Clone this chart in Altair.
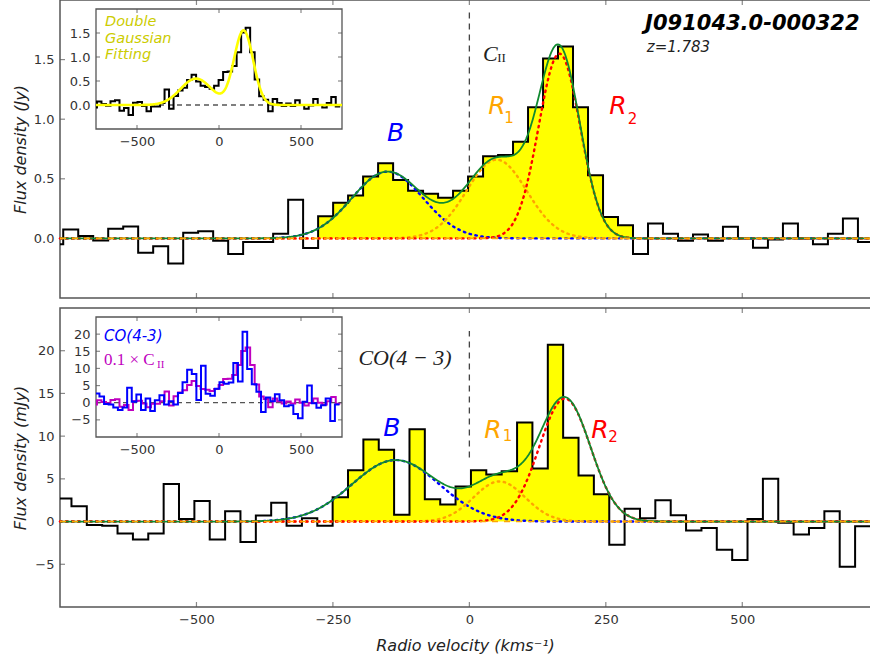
import altair as alt
import numpy as np
import pandas as pd

# ---------------- values ----------------
# [CII] spectrum: channel left edges (km/s, last entry = right edge of last channel) and flux (Jy)
cii_edges = [-771.6, -744.1, -716.6, -689.2, -661.7, -634.2, -606.8, -579.3, -551.8,
             -524.3, -496.9, -469.4, -441.9, -414.5, -387.0, -359.5, -332.0, -304.6,
             -277.1, -249.6, -222.2, -194.7, -167.2, -139.7, -112.3, -84.8, -57.3,
             -29.9, -2.4, 25.1, 52.6, 80.0, 107.5, 135.0, 162.4, 189.9, 217.4, 244.9,
             272.3, 299.8, 327.3, 354.7, 382.2, 409.7, 437.2, 464.6, 492.1, 519.6,
             547.0, 574.5, 602.0, 629.5, 656.9, 684.4, 711.9, 739.4]
cii_flux = [-0.05, 0.075, 0.02, -0.017, 0.08, 0.10, -0.12, -0.065, -0.21, 0.047, 0.06,
            -0.02, -0.13, -0.03, -0.03, 0.04, 0.325, -0.08, 0.185, 0.30, 0.36, 0.52, 0.63,
            0.49, 0.40, 0.375, 0.34, 0.40, 0.52, 0.69, 0.70, 0.81, 1.10, 1.51, 1.61, 1.10,
            0.53, 0.18, 0.11, -0.13, 0.125, 0.04, -0.02, 0.033, -0.02, 0.097, 0.0, -0.078,
            -0.01, 0.125, 0.0, -0.05, 0.04, 0.167, -0.03]
cii_fill = (18, 38)   # first / last shaded channel (list index)

# CO(4-3) spectrum: channel edges (km/s) and flux (mJy)
co_edges = [-757.2, -729.0, -700.9, -672.7, -644.6, -616.4, -588.3, -560.1, -532.0,
            -503.8, -475.7, -447.5, -419.4, -391.2, -363.1, -334.9, -306.8, -278.6,
            -250.5, -222.3, -194.2, -166.0, -137.9, -109.7, -81.6, -53.4, -25.3, 2.9,
            31.0, 59.2, 87.4, 115.5, 143.7, 171.8, 200.0, 228.1, 256.3, 284.4, 312.6,
            340.7, 368.9, 397.0, 425.2, 453.3, 481.5, 509.6, 537.8, 565.9, 594.1, 622.2,
            650.4, 678.5, 706.7, 734.8]
co_flux = [2.7, 1.8, -0.4, -0.5, -1.4, -2.1, -1.4, 4.4, 0.3, 2.4, -2.1, 1.2, -2.4, 0.7,
           2.2, -0.5, 0.4, -0.5, 2.85, 6.0, 9.6, 8.4, 0.8, 10.8, 2.6, 2.0, 4.1, 6.0, 5.5,
           5.9, 11.6, 6.2, 20.7, 9.8, 5.4, 3.2, -2.7, 1.5, 0.4, 2.5, 0.75, -1.05, -0.75,
           -3.3, -4.5, 0.3, 5.0, -0.15, -1.5, -0.75, 1.2, -5.3, -0.55]
co_fill = (18, 35)

# Gaussian fit components (amplitude, centre km/s, sigma km/s)
cii_comp = {"B": (0.56, -150, 65), "R1": (0.66, 50, 55), "R2": (1.55, 165, 38)}
co_comp = {"B": (7.2, -135, 80), "R1": (4.7, 55, 47), "R2": (14.4, 175, 47)}
cii_double = [(0.55, -140, 95), (1.55, 150, 58)]
co_scale_of_cii = 10.0   # "0.1 x C_II" curve in mJy

comp_colors = {"B": "#0000ff", "R1": "#ffa500", "R2": "#ff0000"}

# tick values
main_xticks = [-500, -250, 0, 250, 500]
top_yticks = [0, 0.5, 1.0, 1.5]
bot_yticks = [-5, 0, 5, 10, 15, 20]
inset_xticks = [-500, 0, 500]

# ---------------- layout (pixels inside the 810 x 607 plot area) ----------------
W, H = 810, 607
def xm():  return alt.Scale(domain=[-750, 734], range=[0, 810], nice=False, zero=False)
def xi():  return alt.Scale(domain=[-750, 750], range=[36, 282], nice=False, zero=False)
def yt():  return alt.Scale(domain=[-0.5, 2.0], range=[298, 0], nice=False, zero=False)
def yb():  return alt.Scale(domain=[-10, 25], range=[607, 308], nice=False, zero=False)
def yti(): return alt.Scale(domain=[-0.5, 2.0], range=[129, 9], nice=False, zero=False)
def ybi(): return alt.Scale(domain=[-10, 25], range=[437, 317], nice=False, zero=False)

def step_df(edges, flux, lo=-750):
    v = [max(e, lo) for e in edges]
    return pd.DataFrame({"v": v, "f": list(flux) + [flux[-1]]})

def fill_df(edges, flux, rng):
    i0, i1 = rng
    return pd.DataFrame({"v": edges[i0:i1 + 2], "f": flux[i0:i1 + 1] + [flux[i1]]})

vgrid = np.linspace(-750, 750, 751)
def gauss(a, m, s):
    return a * np.exp(-(vgrid - m) ** 2 / (2 * s * s))

def line(df, xs, ys, color, width, dash=None, interp=None, cap=None):
    kw = dict(color=color, strokeWidth=width)
    if dash: kw["strokeDash"] = dash
    if interp: kw["interpolate"] = interp
    if cap: kw["strokeCap"] = cap
    return alt.Chart(df).mark_line(**kw).encode(
        x=alt.X("v:Q", scale=xs, axis=None), y=alt.Y("f:Q", scale=ys, axis=None))

def texts(rows, xs, ys, **kw):
    df = pd.DataFrame(rows, columns=["v", "f", "t"])
    return alt.Chart(df).mark_text(**kw).encode(
        x=alt.X("v:Q", scale=xs, axis=None), y=alt.Y("f:Q", scale=ys, axis=None),
        text="t:N")

def frame(x1, x2, y1, y2, xs, ys, xaxis=None, yaxis=None, fill=None, sw=1.5):
    df = pd.DataFrame({"x1": [x1], "x2": [x2], "y1": [y1], "y2": [y2]})
    if fill:
        mk = alt.Chart(df).mark_rect(fill=fill, stroke="#555", strokeWidth=sw)
    else:
        mk = alt.Chart(df).mark_rect(filled=False, stroke="#555", strokeWidth=sw)
    return mk.encode(x=alt.X("x1:Q", scale=xs, axis=xaxis), x2="x2:Q",
                     y=alt.Y("y1:Q", scale=ys, axis=yaxis), y2="y2:Q")

def xticks(vals, edge, xs, ys, off, size):
    df = pd.DataFrame({"v": vals, "f": [edge] * len(vals)})
    return alt.Chart(df).mark_tick(orient="vertical", size=size, thickness=1.2,
                                   yOffset=off, color="#555").encode(
        x=alt.X("v:Q", scale=xs, axis=None), y=alt.Y("f:Q", scale=ys, axis=None))

def yticks(vals, edge, xs, ys, off, size):
    df = pd.DataFrame({"v": [edge] * len(vals), "f": vals})
    return alt.Chart(df).mark_tick(orient="horizontal", size=size, thickness=1.2,
                                   xOffset=off, color="#555").encode(
        x=alt.X("v:Q", scale=xs, axis=None), y=alt.Y("f:Q", scale=ys, axis=None))

def vrule(v, f0, f1, xs, ys):
    df = pd.DataFrame({"v": [v], "f0": [f0], "f1": [f1]})
    return alt.Chart(df).mark_rule(color="#444", strokeWidth=1.3, strokeDash=[6, 5]).encode(
        x=alt.X("v:Q", scale=xs, axis=None), y=alt.Y("f0:Q", scale=ys, axis=None), y2="f1:Q")

def fill_area(df, xs, ys):
    return alt.Chart(df).mark_area(color="#ffff00", interpolate="step-after", opacity=1).encode(
        x=alt.X("v:Q", scale=xs, axis=None), y=alt.Y("f:Q", scale=ys, axis=None),
        y2=alt.Y2(datum=0))

def panel(edges, flux, rng, comps, xs_f, ys_f, vr, fr_axes, ytick_vals):
    lo, hi = ys_f().domain
    L = [frame(-750, 760, lo, hi, xs_f(), ys_f(), *fr_axes),
         xticks(main_xticks, lo, xs_f(), ys_f(), -2.5, 5),
         xticks(main_xticks, hi, xs_f(), ys_f(), 2.5, 5),
         yticks(ytick_vals, -750, xs_f(), ys_f(), 2.5, 5),
         vrule(0, vr[0], vr[1], xs_f(), ys_f()),
         fill_area(fill_df(edges, flux, rng), xs_f(), ys_f()),
         line(step_df(edges, flux), xs_f(), ys_f(), "#000000", 2, interp="step-after")]
    total = np.zeros_like(vgrid)
    for name, (a, m, s) in comps.items():
        g = gauss(a, m, s)
        total = total + g
        L.append(line(pd.DataFrame({"v": vgrid, "f": g}), xs_f(), ys_f(),
                      comp_colors[name], 2.4, dash=[1.5, 4.5], cap="round"))
    L.append(line(pd.DataFrame({"v": vgrid, "f": total}), xs_f(), ys_f(), "#108a30", 1.8))
    L.append(line(pd.DataFrame({"v": [-750, 760], "f": [0, 0]}), xs_f(), ys_f(),
                  "#ffa500", 1.6, dash=[6, 6]))
    return L

top_y_axis = alt.Axis(orient="left", values=top_yticks, format=".1f",
                      title="Flux density (Jy)", titleX=-40, titleBaseline="middle")
bot_y_axis = alt.Axis(orient="left", values=bot_yticks, format="d",
                      title="Flux density (mJy)", titleX=-40, titleBaseline="middle")
bot_x_axis = alt.Axis(orient="bottom", values=main_xticks, format="d",
                      title="Radio velocity (kms⁻¹)", titleY=38, titleBaseline="middle")

layers = []
layers += panel(cii_edges, cii_flux, cii_fill, cii_comp, xm, yt, (0, 1.9), (None, top_y_axis), top_yticks)
layers += panel(co_edges, co_flux, co_fill, co_comp, xm, yb, (7.5, 22.3), (bot_x_axis, bot_y_axis), bot_yticks)

# annotations, top panel
layers.append(texts([(322, 1.80, "J091043.0-000322")], xm(), yt(), align="left", baseline="middle",
                    font="DejaVu Sans", fontSize=21, fontStyle="italic", fontWeight="bold", color="#000"))
layers.append(texts([(325, 1.606, "z=1.783")], xm(), yt(), align="left", baseline="middle",
                    font="DejaVu Sans", fontSize=15, fontStyle="italic", color="#222"))
layers.append(texts([(25, 1.547, "C")], xm(), yt(), align="left", baseline="middle",
                    font="Liberation Serif", fontSize=22, fontStyle="italic", color="#222"))
layers.append(texts([(51, 1.51, "II")], xm(), yt(), align="left", baseline="middle",
                    font="Liberation Serif", fontSize=13, color="#222"))
for (v, f, t, c) in [(-135, 0.884, "B", "#0000ff"), (50.6, 1.11, "R", "#ffa500"), (272, 1.11, "R", "#ff0000")]:
    layers.append(texts([(v, f, t)], xm(), yt(), align="center", baseline="middle",
                        font="DejaVu Sans", fontSize=25, fontStyle="italic", color=c))
for (v, f, t, c) in [(72.6, 1.014, "1", "#ffa500"), (298.8, 1.0, "2", "#ff0000")]:
    layers.append(texts([(v, f, t)], xm(), yt(), align="center", baseline="middle",
                        font="DejaVu Sans", fontSize=15, color=c))

# annotations, bottom panel
layers.append(texts([(-118, 19.15, "CO(4 − 3)")], xm(), yb(), align="center", baseline="middle",
                    font="Liberation Serif", fontSize=22, fontStyle="italic", color="#222"))
for (v, f, t, c) in [(-142, 10.95, "B", "#0000ff"), (43, 10.72, "R", "#ffa500"), (239.3, 10.72, "R", "#ff0000")]:
    layers.append(texts([(v, f, t)], xm(), yb(), align="center", baseline="middle",
                        font="DejaVu Sans", fontSize=25, fontStyle="italic", color=c))
for (v, f, t, c) in [(69.8, 10.02, "1", "#ffa500"), (263, 9.9, "2", "#ff0000")]:
    layers.append(texts([(v, f, t)], xm(), yb(), align="center", baseline="middle",
                        font="DejaVu Sans", fontSize=15, color=c))

# ---------------- inset: double gaussian on [CII] ----------------
ti_x = alt.Axis(orient="bottom", offset=-(H - 129), values=inset_xticks, format="d", title=None, zindex=1)
ti_y = alt.Axis(orient="left", offset=-36, values=top_yticks, format=".1f", title=None, zindex=1)
layers.append(frame(-750, 750, -0.5, 2.0, xi(), yti(), ti_x, ti_y, fill="white", sw=1.3))
layers += [xticks(inset_xticks, -0.5, xi(), yti(), -2, 4), xticks(inset_xticks, 2.0, xi(), yti(), 2, 4),
           yticks(top_yticks, -750, xi(), yti(), 2, 4), yticks(top_yticks, 750, xi(), yti(), -2, 4)]
layers.append(line(pd.DataFrame({"v": [-750, 750], "f": [0, 0]}), xi(), yti(), "#555", 1.3, dash=[5, 4]))
layers.append(line(step_df(cii_edges, cii_flux), xi(), yti(), "#000000", 2, interp="step-after"))
dbl = sum(gauss(*p) for p in cii_double)
layers.append(line(pd.DataFrame({"v": vgrid, "f": dbl}), xi(), yti(), "#ffff00", 2.6))
for (f, t) in [(1.729, "Double"), (1.375, "Gaussian"), (1.042, "Fitting")]:
    layers.append(texts([(-695, f, t)], xi(), yti(), align="left", baseline="middle",
                        font="DejaVu Sans", fontSize=14.5, fontStyle="italic", color="#cccc00"))

# ---------------- inset: CO vs scaled [CII] ----------------
bi_x = alt.Axis(orient="bottom", offset=-(H - 437), values=inset_xticks, format="d", title=None, zindex=1)
bi_y = alt.Axis(orient="left", offset=-36, values=bot_yticks, format="d", title=None, zindex=1)
layers.append(frame(-750, 750, -10, 25, xi(), ybi(), bi_x, bi_y, fill="white", sw=1.3))
layers += [xticks(inset_xticks, -10, xi(), ybi(), -2, 4), xticks(inset_xticks, 25, xi(), ybi(), 2, 4),
           yticks(bot_yticks, -750, xi(), ybi(), 2, 4), yticks(bot_yticks, 750, xi(), ybi(), -2, 4)]
layers.append(line(pd.DataFrame({"v": [-750, 750], "f": [0, 0]}), xi(), ybi(), "#555", 1.3, dash=[5, 4]))
layers.append(line(step_df(cii_edges, [co_scale_of_cii * x for x in cii_flux]), xi(), ybi(),
                   "#bf00bf", 2, interp="step-after"))
layers.append(line(step_df(co_edges, co_flux), xi(), ybi(), "#0000ff", 2, interp="step-after"))
layers.append(texts([(-701, 19.46, "CO(4-3)")], xi(), ybi(), align="left", baseline="middle",
                    font="DejaVu Sans", fontSize=15, fontStyle="italic", color="#0000ff"))
layers.append(texts([(-701, 12.46, "0.1 × C")], xi(), ybi(), align="left", baseline="middle",
                    font="Liberation Serif", fontSize=17, color="#bf00bf"))
layers.append(texts([(-378, 11.0, "II")], xi(), ybi(), align="left", baseline="middle",
                    font="Liberation Serif", fontSize=11, color="#bf00bf"))

chart = alt.layer(*layers).resolve_scale(x="independent", y="independent").properties(
    width=W, height=H,
    padding={"left": 60, "top": 0, "right": 0, "bottom": 56},
    autosize=alt.AutoSizeParams(type="none"),
).configure_view(stroke=None).configure_axis(
    grid=False, domain=False, ticks=False, labelPadding=6, labelFlush=False,
    labelFont="DejaVu Sans", labelFontSize=13, labelColor="#333",
    titleFont="DejaVu Sans", titleFontSize=16, titleFontStyle="italic",
    titleFontWeight="normal", titleColor="#222",
)

chart.save("out.html", embed_options={"renderer": "svg", "actions": False})
